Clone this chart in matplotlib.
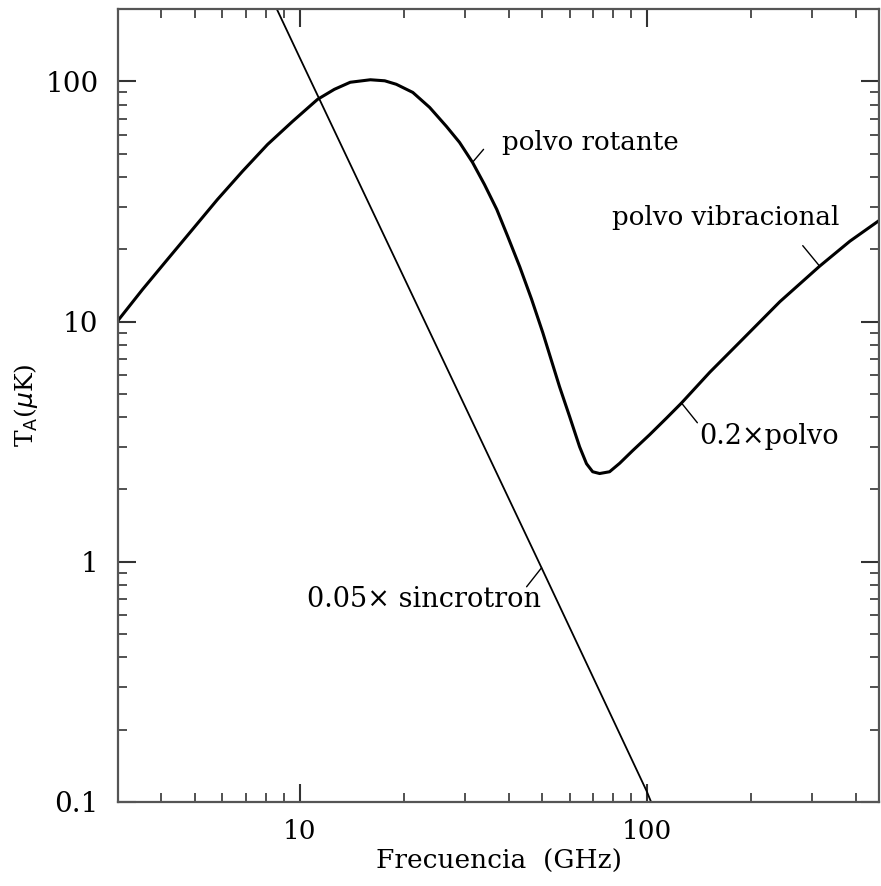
import matplotlib
matplotlib.use("Agg")
import matplotlib.pyplot as plt
from matplotlib.ticker import LogLocator, FuncFormatter, NullFormatter

# ---- data (GHz, micro-K) ----
dust_nu = [3.0, 3.53, 4.16, 4.92, 5.80, 6.85, 8.09, 9.55, 11.27, 12.6, 14.0,
           16.0, 17.6, 19.0, 21.2, 23.7, 26.5, 28.9, 31.5, 34.1, 37.0, 39.8,
           43.1, 46.6, 50.2, 56.1, 60.0, 64.1, 67.1, 69.9, 73.2, 78.2, 83.6,
           91.1, 102, 114, 126, 152, 185, 242, 315, 385, 472]
dust_T = [10.1, 13.6, 18.1, 24.2, 32.2, 42.2, 54.6, 68.1, 84.1, 92.6, 99.1,
          101.5, 100.5, 97.2, 89.9, 77.9, 64.9, 55.7, 46.0, 37.2, 29.3, 22.6,
          16.9, 12.4, 9.0, 5.36, 4.02, 3.01, 2.56, 2.37, 2.33, 2.37, 2.57,
          2.90, 3.38, 3.96, 4.58, 6.15, 8.18, 12.1, 17.0, 21.6, 26.6]

sync_nu = [8.6, 10.0, 49.8, 100.0, 103.0]
sync_T = [200.0, 126.0, 0.944, 0.111, 0.1]

x_ticks = [10, 100]
y_ticks = [0.1, 1, 10, 100]

serif = ["DejaVu Serif"]

fig = plt.figure(figsize=(8.81, 8.86), dpi=100)
ax = fig.add_axes([118 / 881, 84 / 886, 761 / 881, 793 / 886])

ax.plot(dust_nu, dust_T, color="black", lw=2.2, solid_joinstyle="round")
ax.plot(sync_nu, sync_T, color="black", lw=1.3)

ax.set_xscale("log")
ax.set_yscale("log")
ax.set_xlim(3.0, 467)
ax.set_ylim(0.1, 200)

ax.xaxis.set_major_locator(LogLocator(base=10, subs=(1.0,)))
ax.yaxis.set_major_locator(LogLocator(base=10, subs=(1.0,)))
ax.xaxis.set_minor_locator(LogLocator(base=10, subs=range(2, 10)))
ax.yaxis.set_minor_locator(LogLocator(base=10, subs=range(2, 10)))
ax.set_xticks(x_ticks)
ax.set_yticks(y_ticks)
fmt = FuncFormatter(lambda v, p: "%g" % v)
ax.xaxis.set_major_formatter(fmt)
ax.yaxis.set_major_formatter(fmt)
ax.xaxis.set_minor_formatter(NullFormatter())
ax.yaxis.set_minor_formatter(NullFormatter())

ax.tick_params(which="both", direction="in", top=True, right=True,
               color="#333333")
ax.tick_params(which="major", length=13, width=1.5)
ax.tick_params(which="minor", length=6.5, width=1.2)
ax.tick_params(axis="y", which="major", labelsize=20, pad=14)
ax.tick_params(axis="x", which="major", labelsize=19, pad=12)
for lab in ax.get_xticklabels() + ax.get_yticklabels():
    lab.set_family(serif)

for s in ax.spines.values():
    s.set_color("#555555")
    s.set_linewidth(1.6)

ax.set_xlabel("Frecuencia  (GHz)", fontsize=19, family=serif, labelpad=4)
ax.set_ylabel(r"T$_{\rm A}$($\mu$K)", fontsize=18, family=serif, labelpad=4)

ann = dict(arrowstyle="-", color="black", lw=1.0, shrinkA=0, shrinkB=0)
ax.annotate("", xy=(31.5, 46.0), xytext=(33.9, 52.1), arrowprops=ann)
ax.text(38.2, 55.7, "polvo rotante", fontsize=18.8, family=serif,
        ha="left", va="center")

ax.annotate("", xy=(315, 17.0), xytext=(281.6, 20.7), arrowprops=ann)
ax.text(79.3, 27.1, "polvo vibracional", fontsize=18.8, family=serif,
        ha="left", va="center")

ax.annotate("", xy=(126, 4.58), xytext=(140, 3.79), arrowprops=ann)
ax.text(142, 3.32, "0.2\u00d7polvo", fontsize=19.5, family=serif,
        ha="left", va="center")

ax.annotate("", xy=(49.8, 0.944), xytext=(45.1, 0.787), arrowprops=ann)
ax.text(10.5, 0.695, "0.05\u00d7 sincrotron", fontsize=19.5, family=serif,
        ha="left", va="center")

fig.savefig("out.png", dpi=100)
